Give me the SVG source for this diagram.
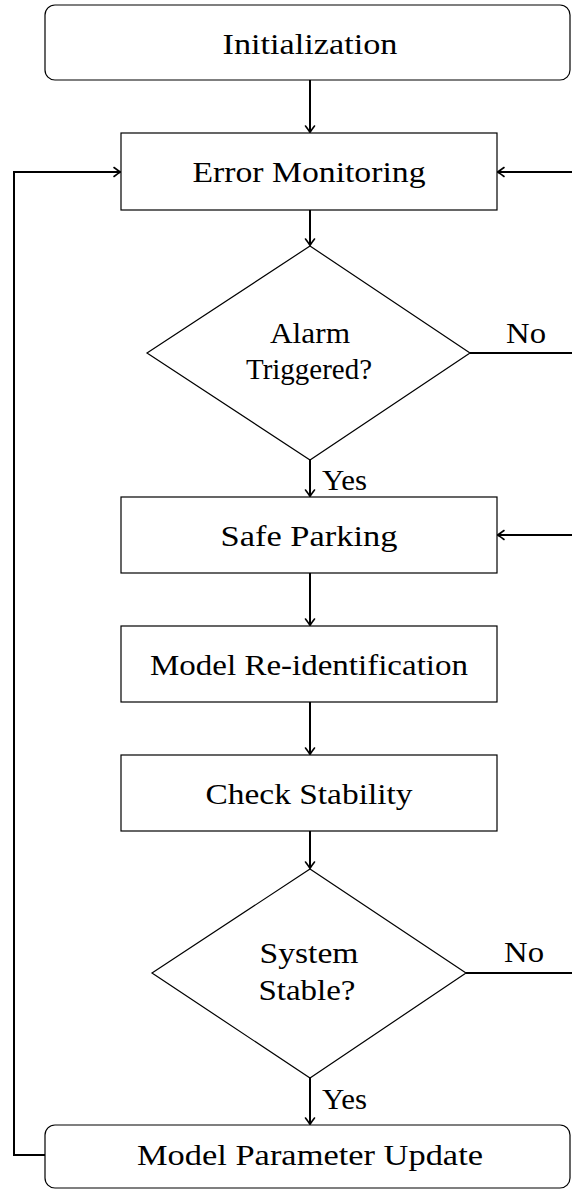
<svg xmlns="http://www.w3.org/2000/svg" width="572" height="1192" viewBox="0 0 572 1192">
<style>
.box{fill:#fff;stroke:#000;stroke-width:1.2}
.t{font-family:"Liberation Serif",serif;font-size:29px;fill:#000;text-anchor:middle}
.lbl{font-family:"Liberation Serif",serif;font-size:29px;fill:#000}
.c{fill:none;stroke:#000;stroke-width:2}
</style>
<defs>
<marker id="ah" markerWidth="12" markerHeight="12" refX="0" refY="0" viewBox="-8 -6 10 12" orient="auto" markerUnits="userSpaceOnUse">
<path d="M-6,-4.5 Q-1.5,-1 0.5,0 Q-1.5,1 -6,4.5" fill="none" stroke="#000" stroke-width="1.6" stroke-linecap="round"/>
</marker>
</defs>
<rect width="572" height="1192" fill="#fff"/>
<g id="connectors">
<line class="c" x1="310" y1="80" x2="310" y2="132" marker-end="url(#ah)"/>
<line class="c" x1="310" y1="210" x2="310" y2="245" marker-end="url(#ah)"/>
<line class="c" x1="310" y1="460" x2="310" y2="496" marker-end="url(#ah)"/>
<line class="c" x1="310" y1="573" x2="310" y2="625" marker-end="url(#ah)"/>
<line class="c" x1="310" y1="702" x2="310" y2="754" marker-end="url(#ah)"/>
<line class="c" x1="310" y1="831" x2="310" y2="868" marker-end="url(#ah)"/>
<line class="c" x1="310" y1="1078" x2="310" y2="1124" marker-end="url(#ah)"/>
<line class="c" x1="470" y1="353" x2="574" y2="353"/>
<line class="c" x1="466" y1="973" x2="574" y2="973"/>
<line class="c" x1="574" y1="172" x2="498" y2="172" marker-end="url(#ah)"/>
<line class="c" x1="574" y1="535" x2="498" y2="535" marker-end="url(#ah)"/>
<polyline class="c" points="45,1155 14,1155 14,172 120,172" marker-end="url(#ah)"/>
<text class="lbl" x="506" y="343" textLength="40" lengthAdjust="spacingAndGlyphs">No</text>
<text class="lbl" x="504" y="962" textLength="40" lengthAdjust="spacingAndGlyphs">No</text>
<text class="lbl" x="322" y="490" textLength="45" lengthAdjust="spacingAndGlyphs">Yes</text>
<text class="lbl" x="322" y="1109" textLength="45" lengthAdjust="spacingAndGlyphs">Yes</text>
</g>
<g id="init">
<rect class="box" x="45" y="5" width="525" height="75" rx="10"/>
<text class="t" x="310" y="54" textLength="175" lengthAdjust="spacingAndGlyphs">Initialization</text>
</g>
<g id="monitor">
<rect class="box" x="121" y="133" width="376" height="77"/>
<text class="t" x="309" y="182" textLength="233" lengthAdjust="spacingAndGlyphs">Error Monitoring</text>
</g>
<g id="alarm">
<polygon class="box" points="310,246 470,353 310,460 147,353"/>
<text class="t" x="310" y="343" textLength="80" lengthAdjust="spacingAndGlyphs">Alarm</text>
<text class="t" x="309" y="379" textLength="126" lengthAdjust="spacingAndGlyphs">Triggered?</text>
</g>
<g id="parking">
<rect class="box" x="121" y="497" width="376" height="76"/>
<text class="t" x="309" y="546" textLength="177" lengthAdjust="spacingAndGlyphs">Safe Parking</text>
</g>
<g id="reident">
<rect class="box" x="121" y="626" width="376" height="76"/>
<text class="t" x="309" y="675" textLength="318" lengthAdjust="spacingAndGlyphs">Model Re-identification</text>
</g>
<g id="check">
<rect class="box" x="121" y="755" width="376" height="76"/>
<text class="t" x="309" y="804" textLength="207" lengthAdjust="spacingAndGlyphs">Check Stability</text>
</g>
<g id="stable">
<polygon class="box" points="310,869 466,973 310,1078 152,973"/>
<text class="t" x="309" y="963" textLength="99" lengthAdjust="spacingAndGlyphs">System</text>
<text class="t" x="307" y="1000" textLength="97" lengthAdjust="spacingAndGlyphs">Stable?</text>
</g>
<g id="update">
<rect class="box" x="45" y="1125" width="525" height="63" rx="10"/>
<text class="t" x="310" y="1165" textLength="346" lengthAdjust="spacingAndGlyphs">Model Parameter Update</text>
</g>
</svg>
